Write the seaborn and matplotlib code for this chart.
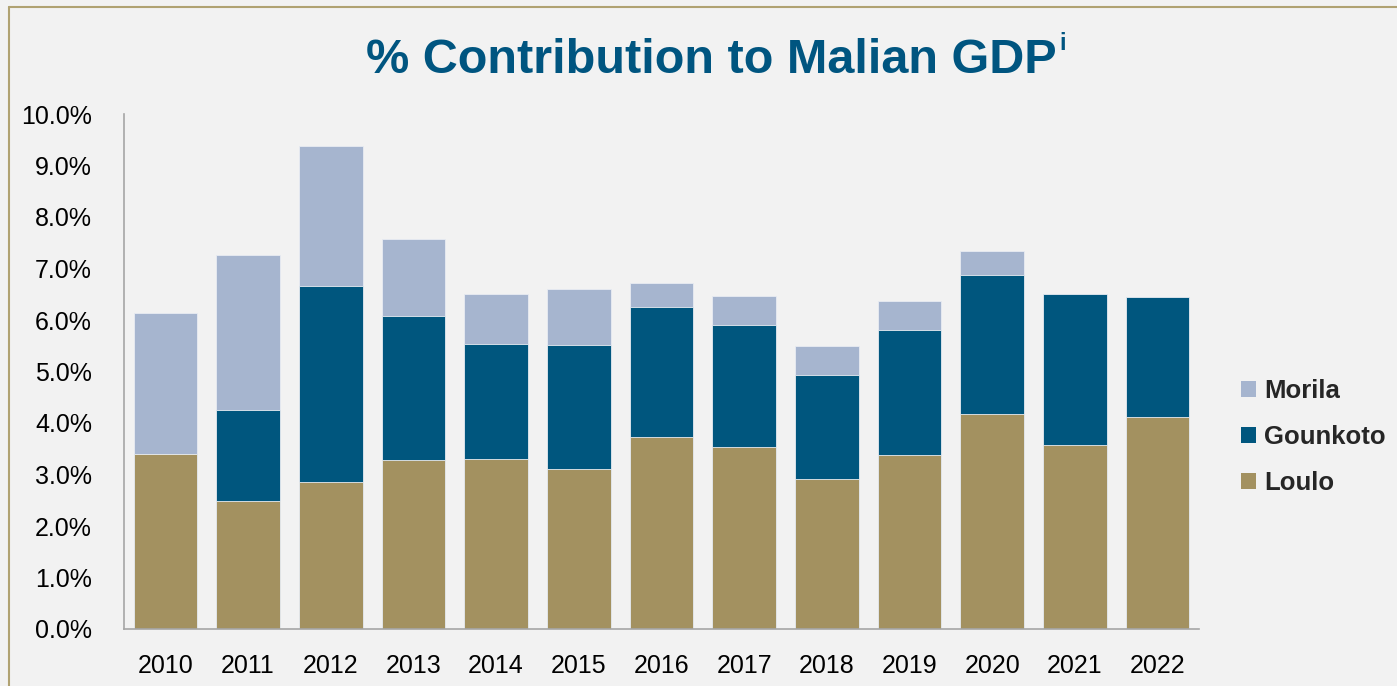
import pandas as pd
import seaborn as sns
import matplotlib.pyplot as plt
from matplotlib.lines import Line2D
from matplotlib.patches import Patch
from matplotlib.ticker import FuncFormatter

# Data (% of Malian GDP)
years = ['2010', '2011', '2012', '2013', '2014', '2015', '2016',
         '2017', '2018', '2019', '2020', '2021', '2022']
loulo = [3.40, 2.49, 2.85, 3.28, 3.30, 3.11, 3.73, 3.53, 2.91, 3.38, 4.17, 3.57, 4.12]
gounkoto = [0.00, 1.76, 3.81, 2.80, 2.23, 2.40, 2.52, 2.37, 2.02, 2.42, 2.70, 2.93, 2.32]
morila = [2.74, 3.01, 2.72, 1.49, 0.97, 1.09, 0.47, 0.57, 0.57, 0.57, 0.47, 0.00, 0.00]

colors = {'Loulo': '#A39160', 'Gounkoto': '#00567E', 'Morila': '#A6B5CF'}
bg = '#F2F2F2'

df = pd.DataFrame({'year': years, 'Loulo': loulo, 'Gounkoto': gounkoto, 'Morila': morila})
df['lg'] = df['Loulo'] + df['Gounkoto']
df['total'] = df['lg'] + df['Morila']

sns.set_style('white')
plt.rcParams['font.family'] = ['Liberation Sans', 'DejaVu Sans']

fig = plt.figure(figsize=(13.97, 6.86), dpi=100, facecolor=bg)
ax = fig.add_axes([124 / 1397, 1 - 629 / 686, (1199 - 124) / 1397, (629 - 114) / 686])
ax.set_facecolor(bg)

# Stacked bars: draw cumulative heights from the top down
for col, name in [('total', 'Morila'), ('lg', 'Gounkoto'), ('Loulo', 'Loulo')]:
    sns.barplot(data=df, x='year', y=col, color=colors[name], width=0.77,
                edgecolor='#E8ECF2', linewidth=0.6, saturation=1, ax=ax)

ax.set_ylim(0, 10)
ax.set_xlim(-0.5, 12.5)
ax.set_yticks(range(0, 11))
ax.yaxis.set_major_formatter(FuncFormatter(lambda v, p: f'{v:.1f}%'))
ax.set_xlabel('')
ax.set_ylabel('')
ax.tick_params(axis='both', labelsize=18, length=0, colors='black')
ax.tick_params(axis='y', pad=23)
ax.tick_params(axis='x', pad=18)
for s in ['top', 'right']:
    ax.spines[s].set_visible(False)
for s in ['left', 'bottom']:
    ax.spines[s].set_color('#A6A6A6')
    ax.spines[s].set_linewidth(1.2)

# Legend
handles = [Patch(facecolor=colors[n], edgecolor='none', label=n) for n in ['Morila', 'Gounkoto', 'Loulo']]
leg = fig.legend(handles=handles, loc='center left', bbox_to_anchor=(1241 / 1397, 1 - 437 / 686),
                 frameon=False, prop={'weight': 'bold', 'size': 18.5}, borderpad=0, borderaxespad=0,
                 handlelength=0.6, handleheight=0.6, handletextpad=0.3, labelspacing=0.85)

# Title with superscript
title = fig.text(366 / 1397, 1 - 73 / 686, '% Contribution to Malian GDP', fontsize=35,
                 fontweight='bold', color='#005580', ha='left', va='baseline')
fig.canvas.draw()
bb = title.get_window_extent()
fig.text((bb.x1 + 3) / 1397, 1 - 50 / 686, 'i', fontsize=17, fontweight='bold',
         color='#005580', ha='left', va='baseline')

# Thin border lines at top and left of the slide frame
fig.add_artist(Line2D([8.5 / 1397, 1], [1 - 6.5 / 686, 1 - 6.5 / 686], color='#B0A272', lw=1.5))
fig.add_artist(Line2D([8.5 / 1397, 8.5 / 1397], [0, 1 - 6.5 / 686], color='#B0A272', lw=1.5))

fig.savefig('out.png', dpi=100, facecolor=bg)
